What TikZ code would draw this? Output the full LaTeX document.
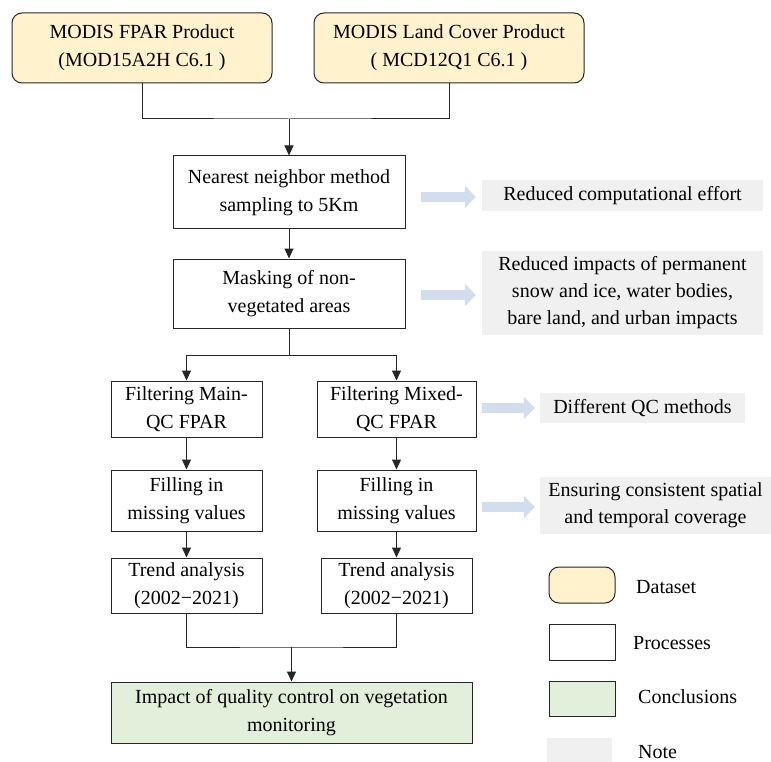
\documentclass[tikz,border=0pt]{standalone}
\usepackage{fontspec}
\setmainfont{Liberation Serif}
\usetikzlibrary{arrows.meta}
\definecolor{dsfill}{HTML}{FFF2CC}
\definecolor{ccfill}{HTML}{E2EFDA}
\definecolor{notefill}{HTML}{F0F0F0}
\definecolor{blarrow}{HTML}{D2DDEE}
\definecolor{edge}{HTML}{262626}
\tikzset{
  base/.style={draw=edge, line width=1pt, align=center, inner sep=0pt,
    font=\fontsize{20}{28}\selectfont, text=black},
  dsbox/.style={base, fill=dsfill, rounded corners=10pt},
  procbox/.style={base, fill=white},
  concbox/.style={base, fill=ccfill},
  notebox/.style={fill=notefill, align=center, inner sep=0pt,
    font=\fontsize{20}{27}\selectfont, text=black},
  conn/.style={draw=edge, line width=1pt},
  arr/.style={conn, -{Triangle[length=10pt,width=9pt]}},
  blockarr/.style={draw=blarrow, line width=10pt,
    -{Triangle[length=11pt,width=22pt]}},
  legtext/.style={anchor=west, inner sep=0pt, font=\fontsize{20}{24}\selectfont}
}
\begin{document}
\begin{tikzpicture}[x=1pt,y=-1pt]
\useasboundingbox (0,0) rectangle (771,762);
\fill[white] (0,0) rectangle (771,762);

% dataset boxes
\node[dsbox, minimum width=260pt, minimum height=70pt] (ds1) at (142,48)
  {MODIS FPAR Product\\(MOD15A2H C6.1 )};
\node[dsbox, minimum width=270pt, minimum height=70pt] (ds2) at (449,48)
  {MODIS Land Cover Product\\( MCD12Q1 C6.1 )};

% processes
\node[procbox, minimum width=232pt, minimum height=73pt] (p1) at (289,192.5)
  {Nearest neighbor method\\sampling to 5Km};
\node[procbox, minimum width=232pt, minimum height=69pt] (p2) at (289,293.5)
  {Masking of non-\\vegetated areas};
\node[procbox, minimum width=151pt, minimum height=56pt] (f1) at (186.5,409)
  {Filtering Main-\\QC FPAR};
\node[procbox, minimum width=159pt, minimum height=56pt] (f2) at (396.5,409)
  {Filtering Mixed-\\QC FPAR};
\node[procbox, minimum width=151pt, minimum height=61pt] (m1) at (186.5,500.5)
  {Filling in\\missing values};
\node[procbox, minimum width=159pt, minimum height=61pt] (m2) at (396.5,500.5)
  {Filling in\\missing values};
\node[procbox, minimum width=151pt, minimum height=55pt] (t1) at (186.5,585.5)
  {Trend analysis\\(2002−2021)};
\node[procbox, minimum width=151pt, minimum height=55pt] (t2) at (396.5,585.5)
  {Trend analysis\\(2002−2021)};
\node[concbox, minimum width=361pt, minimum height=61pt] (cc) at (291.5,712.5)
  {Impact of quality control on vegetation\\monitoring};

% notes
\node[notebox, minimum width=281pt, minimum height=31pt] (n1) at (622.5,195.5)
  {Reduced computational effort};
\node[notebox, minimum width=281pt, minimum height=84pt] (n2) at (622.5,293)
  {Reduced impacts of permanent\\snow and ice, water bodies,\\bare land, and urban impacts};
\node[notebox, minimum width=205pt, minimum height=30pt] (n3) at (642.5,408)
  {Different QC methods};
\node[notebox, minimum width=231pt, minimum height=57pt] (n4) at (655.5,505.5)
  {Ensuring consistent spatial\\and temporal coverage};

% connectors
\coordinate (j1) at (289,119);
\draw[conn] (ds1.south) |- (j1) -| (ds2.south);
\draw[arr] (j1) -- (p1.north);
\draw[arr] (p1.south) -- (p2.north);
\coordinate (j2) at (289,355);
\draw[conn] (p2.south) -- (j2);
\draw[arr] (j2) -| (f1.north);
\draw[arr] (j2) -| (f2.north);
\draw[arr] (f1.south) -- (m1.north);
\draw[arr] (f2.south) -- (m2.north);
\draw[arr] (m1.south) -- (t1.north);
\draw[arr] (m2.south) -- (t2.north);
\coordinate (j3) at (291.5,647);
\draw[conn] (t1.south) |- (j3) -| (t2.south);
\draw[arr] (j3) -- (cc.north);

% note arrows
\coordinate (a1) at (421,197);
\coordinate (a2) at (421,295);
\coordinate (a3) at (482,408);
\coordinate (a4) at (482,507);
\draw[blockarr, shorten >=6pt] (a1) -- (a1 -| n1.west);
\draw[blockarr, shorten >=6pt] (a2) -- (a2 -| n2.west);
\draw[blockarr, shorten >=5pt] (a3) -- (a3 -| n3.west);
\draw[blockarr, shorten >=5pt] (a4) -- (a4 -| n4.west);

% legend
\node[dsbox, minimum width=66pt, minimum height=36pt] (l1) at (582,585) {};
\node[procbox, minimum width=66pt, minimum height=36pt] (l2) at (582,642) {};
\node[concbox, minimum width=66pt, minimum height=35pt] (l3) at (582,698.5) {};
\node[fill=notefill, minimum width=65pt, minimum height=30pt, inner sep=0pt] (l4) at (579.5,753) {};
\node[legtext] (lt1) at (636,587) {Dataset};
\node[legtext] (lt2) at (633,643) {Processes};
\node[legtext] (lt3) at (638,697) {Conclusions};
\node[legtext] (lt4) at (638,752) {Note};
\end{tikzpicture}
\end{document}
